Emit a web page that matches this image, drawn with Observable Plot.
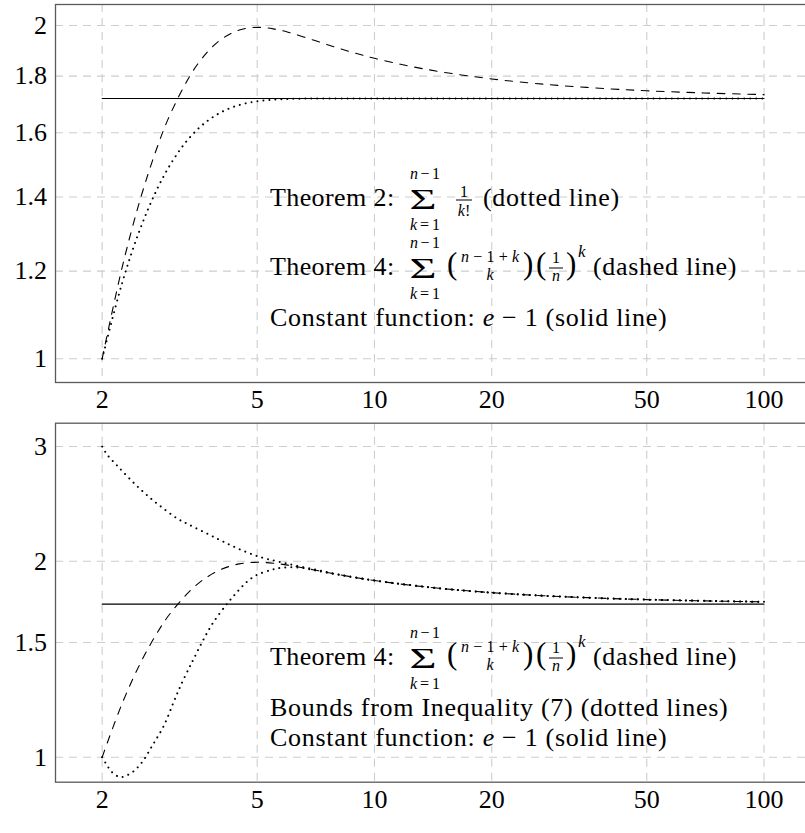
<!DOCTYPE html>
<html><head><meta charset="utf-8">
<script src="https://cdn.jsdelivr.net/npm/d3@7"></script>
<script src="https://cdn.jsdelivr.net/npm/@observablehq/plot@0.6"></script>
<style>
html,body{margin:0;padding:0;background:#fff;overflow:hidden;}
#wrap{width:805px;height:833px;overflow:hidden;position:relative;background:#fff;}
#wrap svg{display:block;max-width:none !important;}
</style></head><body><div id="wrap"></div>
<script>
// ---- data ----
const xTicks = [2, 5, 10, 20, 50, 100];
const yTicksTop = [1, 1.2, 1.4, 1.6, 1.8, 2];
const yTicksBottom = [1, 1.5, 2, 3];

// Theorem 2 (dotted, top panel)
const nTheorem2 = [2, 2.25, 2.5, 2.75, 3, 3.25, 3.5, 3.75, 4, 4.25, 4.5, 4.75, 5, 5.25, 5.5, 5.75, 6, 6.5, 7, 8, 9, 10, 20, 50, 100];
const theorem2 = [1, 1.17050, 1.30822, 1.41662, 1.5, 1.56277, 1.60912, 1.64272, 1.66667, 1.68347, 1.69509, 1.70301, 1.70833, 1.71187, 1.71420, 1.71570, 1.71667, 1.71767, 1.71806, 1.71825, 1.71828, 1.71828, 1.71828, 1.71828, 1.71828];

// Theorem 4 (dashed, both panels)
const nTheorem4 = [2, 2.25, 2.5, 2.75, 3, 3.5, 4, 4.5, 5, 5.5, 6, 7, 8, 9, 10, 12, 15, 20, 25, 30, 40, 50, 70, 100];
const theorem4 = [1, 1.2087, 1.3897, 1.5421, 1.6667, 1.8413, 1.9375, 1.9809, 1.9920, 1.9859, 1.9722, 1.9391, 1.9098, 1.8864, 1.8680, 1.8409, 1.8148, 1.7895, 1.7747, 1.7650, 1.7531, 1.7460, 1.7380, 1.7320];

// Constant e - 1 (solid)
const nConstant = [2, 100];
const eMinusOne = [1.71828, 1.71828];

// Bounds from Inequality (7) (dotted, bottom panel)
const nUpper = [2, 2.06, 2.185, 2.364, 2.584, 2.823, 3.116, 3.337, 3.684, 3.985, 4.27, 4.62, 5, 5.355, 6, 7, 8, 10, 15, 20, 30, 50, 100];
const upperBound = [3.0, 2.915, 2.804, 2.669, 2.537, 2.429, 2.326, 2.277, 2.211, 2.160, 2.117, 2.073, 2.036, 2.013, 1.981, 1.943, 1.911, 1.8685, 1.8150, 1.7897, 1.7651, 1.7461, 1.7321];
const nLower = [2, 2.06, 2.12, 2.23, 2.39, 2.53, 2.69, 2.88, 3.05, 3.18, 3.35, 3.44, 3.61, 3.83, 4.19, 4.44, 4.71, 5, 5.41, 5.63, 6, 6.5, 7, 8, 10, 15, 20, 30, 50, 100];
const lowerBound = [1, 0.971, 0.9485, 0.932, 0.9485, 0.982, 1.042, 1.118, 1.214, 1.288, 1.374, 1.418, 1.502, 1.600, 1.722, 1.793, 1.860, 1.906, 1.938, 1.950, 1.957, 1.954, 1.937, 1.908, 1.8675, 1.8146, 1.7893, 1.7649, 1.7459, 1.7319];

// ---- styles / scales ----
const FONT = "'Liberation Serif','Times New Roman',serif";
const GRID = {stroke: "#cdcdcd", strokeOpacity: 1, strokeWidth: 1.1, strokeDasharray: "8,6"};
const DASHED = {stroke: "black", strokeWidth: 1.1, strokeDasharray: "7.6,7.6"};
const DOTTED = {stroke: "black", strokeWidth: 2, strokeDasharray: "0.01,6", strokeLinecap: "round"};
const SOLID = {stroke: "black", strokeWidth: 1.1};
const xDomain = [1.518, 131.6];
const yDomainTop = [0.9519, 2.089];
const yDomainBottom = [0.9154, 3.258];

const rows = (ns, vs) => ns.map((n, i) => ({n, v: vs[i]}));
const line = (ns, vs, style) => Plot.line(rows(ns, vs), {x: "n", y: "v", curve: "catmull-rom", ...style});

function panel({height, marginTop, marginBottom, yDomain, yTicks, lines}) {
  return Plot.plot({
    width: 815, height,
    marginLeft: 55, marginRight: 5, marginTop, marginBottom,
    style: {fontFamily: FONT, fontSize: "26px", color: "black", background: "white", maxWidth: "none"},
    x: {type: "log", domain: xDomain, ticks: xTicks, tickFormat: d => String(d), tickSize: 0, tickPadding: 7.5, label: null},
    y: {type: "log", domain: yDomain, ticks: yTicks, tickFormat: d => String(d), tickSize: 0, tickPadding: 8.5, label: null},
    marks: [
      Plot.ruleX(xTicks, GRID),
      Plot.ruleY(yTicks, GRID),
      ...lines,
      Plot.frame({stroke: "#5a5a5a", strokeWidth: 1.3})
    ]
  });
}

// ---- annotation helpers (real text) ----
function addText(g, x, y, parts, o = {}) {
  const t = g.append("text").attr("x", x).attr("y", y)
    .attr("font-size", o.size ?? 26)
    .attr("text-anchor", o.anchor ?? "start")
    .style("white-space", "pre");
  if (o.ls) t.style("letter-spacing", o.ls + "px");
  if (o.len) t.attr("textLength", o.len).attr("lengthAdjust", o.adjust ?? "spacing");
  (typeof parts === "string" ? [[parts]] : parts).forEach(([s, it]) => {
    const sp = t.append("tspan").text(s);
    if (it) sp.attr("font-style", "italic");
  });
  return t;
}
function bar(g, x1, x2, y) {
  g.append("line").attr("x1", x1).attr("x2", x2).attr("y1", y).attr("y2", y)
    .attr("stroke", "black").attr("stroke-width", 1);
}
function sumSign(g, cx, B) {
  addText(g, cx - 13.5, B + 3, "Σ", {size: 30, len: 27, adjust: "spacingAndGlyphs"});
  addText(g, cx + 2, B - 27, [["n", 1], ["−1"]], {size: 16, anchor: "middle", len: 30});
  addText(g, cx + 2, B + 24, [["k", 1], ["=1"]], {size: 16, anchor: "middle", len: 30});
}
function theorem2Row(g, B) {
  addText(g, 270, B, "Theorem 2:", {ls: 0.4});
  sumSign(g, 423, B);
  addText(g, 464, B - 9, "1", {size: 16, anchor: "middle"});
  bar(g, 456, 472, B - 5.5);
  addText(g, 464, B + 10, [["k", 1], ["!"]], {size: 16, anchor: "middle"});
  addText(g, 483, B, "(dotted line)", {ls: 0.7});
}
function theorem4Row(g, B) {
  addText(g, 270, B, "Theorem 4:", {ls: 0.4});
  sumSign(g, 423, B);
  addText(g, 447, B - 1, "(", {size: 31});
  addText(g, 490, B - 12.5, [["n", 1], ["−1+"], ["k", 1]], {size: 16, anchor: "middle", len: 58});
  addText(g, 490, B + 5.5, [["k", 1]], {size: 16, anchor: "middle"});
  addText(g, 523, B - 1, ")", {size: 31});
  addText(g, 536, B - 1, "(", {size: 31});
  addText(g, 556, B - 12, "1", {size: 16, anchor: "middle"});
  bar(g, 549, 563, B - 6.5);
  addText(g, 556, B + 6, [["n", 1]], {size: 16, anchor: "middle"});
  addText(g, 566, B - 1, ")", {size: 31});
  addText(g, 578, B - 18, [["k", 1]], {size: 17});
  addText(g, 593, B, "(dashed line)", {ls: 0.7});
}
const constantText = [["Constant function: "], ["e", 1], [" − 1 (solid line)"]];
const boundsText = "Bounds from Inequality (7) (dotted lines)";

// ---- top panel ----
const topSvg = panel({
  height: 420, marginTop: 4, marginBottom: 38,
  yDomain: yDomainTop, yTicks: yTicksTop,
  lines: [
    line(nConstant, eMinusOne, SOLID),
    line(nTheorem2, theorem2, DOTTED),
    line(nTheorem4, theorem4, DASHED)
  ]
});
const gTop = d3.select(topSvg).append("g").attr("font-family", FONT).attr("fill", "black");
theorem2Row(gTop, 205.5);
theorem4Row(gTop, 274.5);
addText(gTop, 270, 325.5, constantText, {ls: 0.7});

// ---- bottom panel ----
const bottomSvg = panel({
  height: 413, marginTop: 2.7, marginBottom: 51.3,
  yDomain: yDomainBottom, yTicks: yTicksBottom,
  lines: [
    line(nConstant, eMinusOne, SOLID),
    line(nUpper, upperBound, DOTTED),
    line(nLower, lowerBound, DOTTED),
    line(nTheorem4, theorem4, DASHED)
  ]
});
const gBot = d3.select(bottomSvg).append("g").attr("font-family", FONT).attr("fill", "black");
theorem4Row(gBot, 244.5);
addText(gBot, 270, 295.5, boundsText, {ls: 0.7});
addText(gBot, 270, 325.5, constantText, {ls: 0.7});

const wrap = document.getElementById("wrap");
wrap.appendChild(topSvg);
wrap.appendChild(bottomSvg);
</script>
</body></html>
